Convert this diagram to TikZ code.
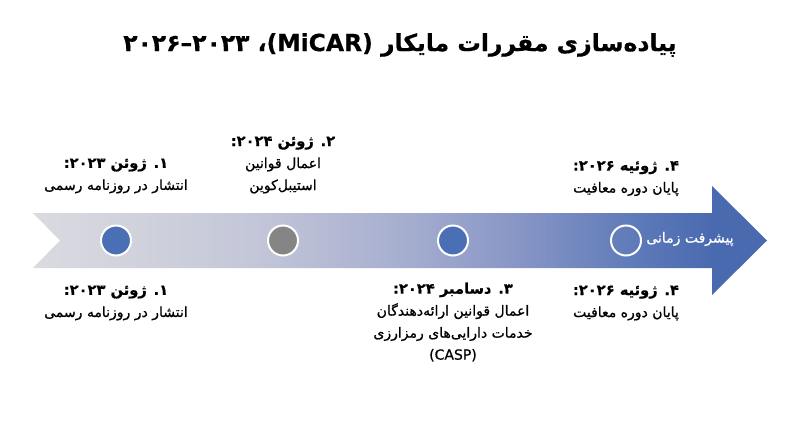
\documentclass[tikz,border=0pt]{standalone}
\usepackage{fontspec}
\newfontfamily\farsireg[Script=Arabic]{DejaVu Sans}
\newfontfamily\farsimed[Script=Arabic,FakeBold=0.7]{DejaVu Sans}
\newfontfamily\farsibold[Script=Arabic,FakeBold=0.5]{DejaVu Sans Bold}
\TeXXeTstate=1
\newcommand{\RL}[1]{\beginR #1\endR}
\definecolor{g0}{HTML}{DADBE0}
\definecolor{g1}{HTML}{C4C7D8}
\definecolor{g2}{HTML}{A7AFD0}
\definecolor{g3}{HTML}{8795C5}
\definecolor{g4}{HTML}{5C79B8}
\definecolor{g5}{HTML}{4A6AB0}
\definecolor{dotblue}{HTML}{4A6FB5}
\definecolor{dotgray}{HTML}{858585}
\pgfdeclarehorizontalshading{bandshade}{100bp}{color(0bp)=(g0); color(25bp)=(g0); color(39.8bp)=(g1); color(50bp)=(g2); color(58.2bp)=(g3); color(66.4bp)=(g4); color(71.25bp)=(g5); color(100bp)=(g5)}
\newcommand{\dt}[1]{{\farsibold\fontsize{11}{16.5}\selectfont\RL{#1}}}
\tikzset{
  dot/.style={circle, draw=white, line width=1.5pt, minimum size=22.5pt, inner sep=0pt},
  lbl/.style={font=\farsimed\fontsize{10.5}{16.5}\selectfont, align=center, inner sep=0pt, text=black},
}
\begin{document}
\begin{tikzpicture}[x=0.75pt,y=-0.75pt]
\useasboundingbox (0,0) rectangle (800,447);
\fill[white] (0,0) rectangle (800,447);
% title
\node[font=\farsibold\fontsize{17.6}{21}\selectfont, inner sep=0pt] (title) at (400,45)
  {\RL{پیاده‌سازی مقررات مایکار \beginL(MiCAR)\endL\kern0pt،\kern0pt{} ۲۰۲۳\kern0pt–\kern0pt۲۰۲۶}};
% arrow band
\shade[shading=bandshade] (33,213) -- (712,213) -- (712,186) -- (767,240.5) -- (712,295) -- (712,268) -- (33,268) -- (60,240.5) -- cycle;
% dots
\node[dot, fill=dotblue] (c1) at (116,240.5) {};
\node[dot, fill=dotgray] (c2) at (283,240.5) {};
\node[dot, fill=dotblue] (c3) at (453,240.5) {};
\node[dot] (c4) at (626,240.5) {};
\node[font=\farsimed\fontsize{10.5}{12}\selectfont, text=white, inner sep=0pt] (prog) at (690,239) {\RL{پیشرفت زمانی}};
% labels top
\node[lbl] (t1) at (116,176) {\dt{۱\kern0pt. ژوئن ۲۰۲۳\kern0pt:}\\\RL{انتشار در روزنامه رسمی}};
\node[lbl] (t2) at (283,165) {\dt{۲\kern0pt. ژوئن ۲۰۲۴\kern0pt:}\\\RL{اعمال قوانین}\\\RL{استیبل‌کوین}};
\node[lbl] (t4) at (626,178.5) {\dt{۴\kern0pt. ژوئیه ۲۰۲۶\kern0pt:}\\\RL{پایان دوره معافیت}};
% labels bottom
\node[lbl] (b1) at (116,303) {\dt{۱\kern0pt. ژوئن ۲۰۲۳\kern0pt:}\\\RL{انتشار در روزنامه رسمی}};
\node[lbl] (b3) at (453,322) {\dt{۳\kern0pt. دسامبر ۲۰۲۴\kern0pt:}\\\RL{اعمال قوانین ارائه‌دهندگان}\\\RL{خدمات دارایی‌های رمزارزی}\\(CASP)};
\node[lbl] (b4) at (626,303) {\dt{۴\kern0pt. ژوئیه ۲۰۲۶\kern0pt:}\\\RL{پایان دوره معافیت}};
\end{tikzpicture}
\end{document}
